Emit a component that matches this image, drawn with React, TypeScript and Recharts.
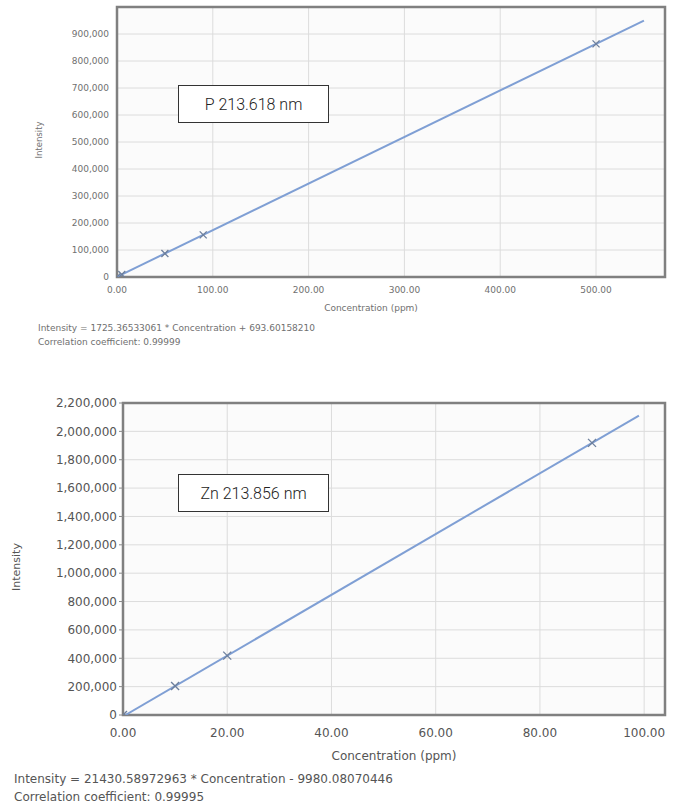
import React from 'react'
import { ScatterChart, Scatter, XAxis, YAxis, CartesianGrid, ReferenceArea } from 'recharts'

// P 213.618 nm calibration
const pFitLine = [
  { x: 0, y: 694 },
  { x: 550, y: 949644 },
]
const pStandards = [
  { x: 0, y: 700 },
  { x: 5, y: 9300 },
  { x: 50, y: 86900 },
  { x: 90, y: 155970 },
  { x: 500, y: 863380 },
]
const pXTicks = [0, 100, 200, 300, 400, 500]
const pYTicks = [0, 100000, 200000, 300000, 400000, 500000, 600000, 700000, 800000, 900000]

// Zn 213.856 nm calibration
const znFitLine = [
  { x: 0.47, y: 0 },
  { x: 99, y: 2111650 },
]
const znStandards = [
  { x: 0, y: 0 },
  { x: 10, y: 204300 },
  { x: 20, y: 418600 },
  { x: 90, y: 1918700 },
]
const znXTicks = [0, 20, 40, 60, 80, 100]
const znYTicks = [0, 200000, 400000, 600000, 800000, 1000000, 1200000, 1400000, 1600000, 1800000, 2000000, 2200000]

const lineColor = '#7f9fd4'
const markColor = '#6d7f9c'
const font = 'Tahoma, "DejaVu Sans", sans-serif'

const Cross = (props: any) => {
  const { cx, cy } = props
  if (cx == null || cy == null) return <g />
  const s = props.size || 4
  return (
    <g stroke={markColor} strokeWidth={1.3}>
      <line x1={cx - s} y1={cy - s} x2={cx + s} y2={cy + s} />
      <line x1={cx - s} y1={cy + s} x2={cx + s} y2={cy - s} />
    </g>
  )
}

const NoDot = () => <g />

const fmtInt = (v: number) => v.toLocaleString('en-US')
const fmt2 = (v: number) => v.toFixed(2)

export default function App() {
  return (
    <div style={{ position: 'absolute', left: 0, top: 0, width: 675, height: 812, background: '#fff', fontFamily: font }}>
      {/* top chart */}
      <div style={{ position: 'absolute', left: 0, top: 0 }}>
        <ScatterChart width={675} height={299} margin={{ top: 7, right: 10, bottom: 0, left: 0 }}>
          <CartesianGrid stroke="#dcdcdc" fill="#fbfbfb" horizontalValues={pYTicks} verticalValues={pXTicks} />
          <XAxis type="number" dataKey="x" domain={[0, 572]} ticks={pXTicks} tickFormatter={fmt2}
            allowDataOverflow height={22} axisLine={false} tickLine={false}
            tick={{ fontSize: 9, fill: '#707070', fontFamily: font, dy: 2 }} />
          <YAxis type="number" dataKey="y" domain={[0, 1000000]} ticks={pYTicks} tickFormatter={fmtInt}
            allowDataOverflow width={117} axisLine={false} tickLine={false}
            tick={{ fontSize: 9, fill: '#707070', fontFamily: font }} />
          <ReferenceArea x1={0} x2={572} y1={0} y2={1000000} fill="none" stroke="#808080" strokeWidth={2.5} ifOverflow="visible" />
          <Scatter data={pFitLine} line={{ stroke: lineColor, strokeWidth: 2 }} shape={NoDot} isAnimationActive={false} />
          <Scatter data={pStandards} shape={(p: any) => <Cross {...p} size={3.5} />} isAnimationActive={false} />
        </ScatterChart>
        <div style={{ position: 'absolute', left: 39, top: 140, transform: 'translate(-50%,-50%) rotate(-90deg)', fontSize: 8.5, color: '#707070' }}>Intensity</div>
        <div style={{ position: 'absolute', left: 371, top: 303, fontSize: 9, color: '#707070', transform: 'translateX(-50%)', whiteSpace: 'nowrap' }}>Concentration (ppm)</div>
        <div style={{ position: 'absolute', left: 38, top: 321, fontSize: 9, color: '#707070', whiteSpace: 'nowrap', lineHeight: '14px' }}>
          Intensity = 1725.36533061 * Concentration + 693.60158210<br />Correlation coefficient: 0.99999
        </div>
        <div style={{ position: 'absolute', left: 178, top: 85, width: 149, height: 36, border: '1px solid #333', background: '#fff',
          fontFamily: 'Roboto, sans-serif', fontWeight: 300, fontSize: 16, color: '#222', display: 'flex', alignItems: 'center', justifyContent: 'center' }}>
          P 213.618 nm
        </div>
      </div>

      {/* bottom chart */}
      <div style={{ position: 'absolute', left: 0, top: 395 }}>
        <ScatterChart width={675} height={348} margin={{ top: 8, right: 10, bottom: 0, left: 0 }}>
          <CartesianGrid stroke="#dcdcdc" fill="#fbfbfb" horizontalValues={znYTicks} verticalValues={znXTicks} />
          <XAxis type="number" dataKey="x" domain={[0, 104]} ticks={znXTicks} tickFormatter={fmt2}
            allowDataOverflow height={28} axisLine={false} tickLine={false}
            tick={{ fontSize: 12, fill: '#555', fontFamily: font, dy: 5 }} />
          <YAxis type="number" dataKey="y" domain={[0, 2200000]} ticks={znYTicks} tickFormatter={fmtInt}
            allowDataOverflow width={123} axisLine={false} tickLine={{ stroke: '#888' }} tickSize={4}
            tick={{ fontSize: 12, fill: '#555', fontFamily: font }} />
          <ReferenceArea x1={0} x2={104} y1={0} y2={2200000} fill="none" stroke="#808080" strokeWidth={2.5} ifOverflow="visible" />
          <Scatter data={znFitLine} line={{ stroke: lineColor, strokeWidth: 2 }} shape={NoDot} isAnimationActive={false} />
          <Scatter data={znStandards} shape={(p: any) => <Cross {...p} size={4} />} isAnimationActive={false} />
        </ScatterChart>
        <div style={{ position: 'absolute', left: 16, top: 172, transform: 'translate(-50%,-50%) rotate(-90deg)', fontSize: 11, color: '#555' }}>Intensity</div>
        <div style={{ position: 'absolute', left: 394, top: 354, fontSize: 12, color: '#555', transform: 'translateX(-50%)', whiteSpace: 'nowrap' }}>Concentration (ppm)</div>
        <div style={{ position: 'absolute', left: 14, top: 375, fontSize: 12, color: '#555', whiteSpace: 'nowrap', lineHeight: '18px' }}>
          Intensity = 21430.58972963 * Concentration - 9980.08070446<br />Correlation coefficient: 0.99995
        </div>
        <div style={{ position: 'absolute', left: 178, top: 79, width: 149, height: 36, border: '1px solid #333', background: '#fff',
          fontFamily: 'Roboto, sans-serif', fontWeight: 300, fontSize: 16, color: '#222', display: 'flex', alignItems: 'center', justifyContent: 'center' }}>
          Zn 213.856 nm
        </div>
      </div>
    </div>
  )
}
